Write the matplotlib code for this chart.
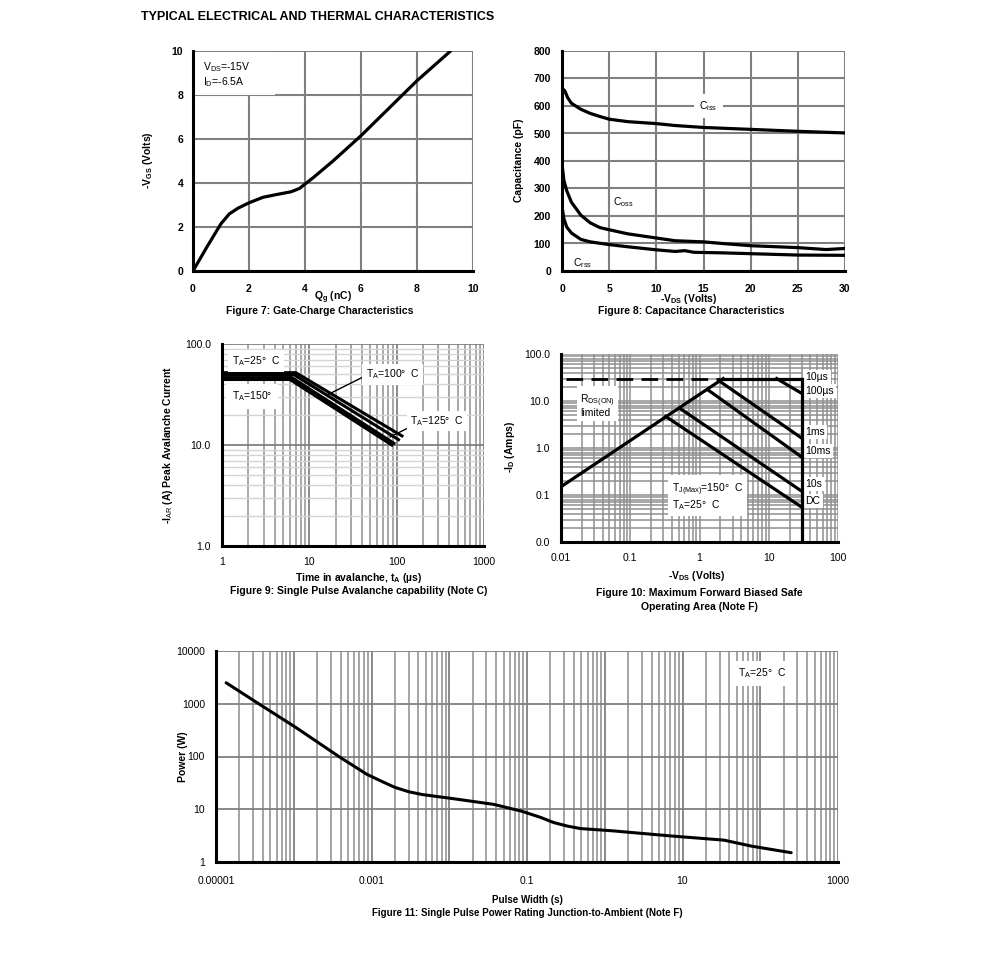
import numpy as np
import matplotlib
matplotlib.use("Agg")
import matplotlib.pyplot as plt
from matplotlib.ticker import FixedLocator, NullFormatter, LogLocator

plt.rcParams['font.family'] = ['Liberation Sans', 'DejaVu Sans']
plt.rcParams['mathtext.fontset'] = 'custom'
plt.rcParams['mathtext.rm'] = 'Liberation Sans'
plt.rcParams['mathtext.it'] = 'Liberation Sans:italic'
plt.rcParams['mathtext.bf'] = 'Liberation Sans:bold'

### DATA ###
# Figure 7: gate charge
qg = [0, 0.5, 1.0, 1.3, 1.6, 2.0, 2.5, 3.0, 3.5, 3.8, 4.0, 4.3, 5.0, 6.0, 7.0, 8.0, 9.2]
vgs = [0, 1.1, 2.15, 2.6, 2.85, 3.1, 3.35, 3.48, 3.6, 3.75, 3.95, 4.25, 5.0, 6.15, 7.4, 8.65, 10.0]

# Figure 8: capacitance
vds_ciss = [0, 0.3, 0.6, 1, 2, 3, 4, 5, 7, 10, 12, 15, 20, 25, 30]
ciss = [665, 655, 630, 610, 588, 573, 562, 552, 543, 536, 529, 522, 515, 508, 502]
vds_coss = [0, 0.2, 0.5, 1, 2, 3, 4, 5, 7, 10, 12, 15, 17, 20, 25, 28, 30]
coss = [390, 330, 292, 250, 203, 175, 158, 150, 135, 120, 110, 106, 100, 92, 85, 78, 82]
vds_crss = [0, 0.2, 0.5, 1, 2, 3, 5, 7, 10, 12, 13, 14, 17, 20, 25, 30]
crss = [235, 190, 160, 138, 115, 106, 96, 88, 77, 71, 74, 68, 66, 63, 58, 57]

# Figure 9: avalanche capability (t in us, I in A)
t_25 = [1, 7.0, 115]
i_25 = [52, 52, 12.3]
t_100 = [1, 6.7, 105]
i_100 = [49.5, 49.5, 11.3]
t_125 = [1, 6.3, 93]
i_125 = [46.5, 46.5, 10.4]
t_150 = [1, 6.0, 88]
i_150 = [44.5, 44.5, 10.0]

# Figure 10: SOA
rds_v = [0.01, 2.2]
rds_i = [0.15, 30]
dash_v = [0.012, 1.95]
dash_i = [30, 30]
top_v = [2.2, 30]
top_i = [30, 30]
vert_v = [30, 30]
vert_i = [30, 0.01]
soa_v = {"100us": [13, 30], "1ms": [1.98, 30], "10ms": [1.38, 30], "10s": [0.52, 30], "DC": [0.325, 30]}
soa_i = {"100us": [30, 14.5], "1ms": [26, 1.62], "10ms": [16.5, 0.64], "10s": [7.0, 0.12], "DC": [4.7, 0.055]}
soa_labels = ["10\u00b5s", "100\u00b5s", "1ms", "10ms", "10s", "DC"]
soa_label_y = [32, 16, 2.2, 0.85, 0.17, 0.075]

# Figure 11: single pulse power
pw = [1.35e-5, 3.2e-5, 1.05e-4, 3.8e-4, 8.7e-4, 1.4e-3, 2e-3, 3e-3, 4.5e-3, 0.0115, 0.037, 0.085,
      0.15, 0.22, 0.33, 0.49, 1.26, 7.4, 34, 77, 250]
power = [2500, 1100, 360, 100, 46, 33, 26, 21.5, 19, 15.8, 12.4, 9.2, 7.0, 5.6, 4.8, 4.3, 3.9, 3.1, 2.6, 2.0, 1.5]

W, H = 991, 980
fig = plt.figure(figsize=(W / 100, H / 100), dpi=100)


def box(l, t, r, b):
    return [l / W, 1 - b / H, (r - l) / W, (b - t) / H]


def ftext(x, y, s, **kw):
    kw.setdefault("ha", "center")
    kw.setdefault("va", "center")
    kw.setdefault("fontsize", 7.5)
    fig.text(x / W, 1 - y / H, s, **kw)


def style(ax):
    for s in ["left", "bottom"]:
        ax.spines[s].set_linewidth(2.2)
        ax.spines[s].set_color("black")
        ax.spines[s].set_zorder(5)
    for s in ["top", "right"]:
        ax.spines[s].set_visible(False)
    ax.set_axisbelow(True)


wbox = dict(facecolor="white", edgecolor="none", pad=2.5)

ftext(141, 17, "TYPICAL ELECTRICAL AND THERMAL CHARACTERISTICS", ha="left",
      fontsize=9, fontweight="bold")

### FIGURE 7 ###
ax7 = fig.add_axes(box(193, 51, 473, 271))
style(ax7)
ax7.plot(qg, vgs, color="black", lw=2.3, solid_capstyle="round", solid_joinstyle="round")
ax7.set_xlim(0, 10)
ax7.set_ylim(0, 10)
ax7.set_xticks(range(0, 11, 2))
ax7.set_yticks(range(0, 11, 2))
ax7.grid(True, color="#808080", lw=1.5)
ax7.tick_params(length=0, labelsize=7.5, pad=9)
ax7.tick_params(axis="y", pad=7)
for lab in ax7.get_xticklabels() + ax7.get_yticklabels():
    lab.set_fontweight("bold")
ax7.add_patch(plt.Rectangle((0.07, 8.0), 2.85, 1.95, facecolor="white", edgecolor="none", zorder=2))
ax7.text(0.36, 9.27, "V$_\\mathrm{DS}$=-15V", fontsize=7.5, va="center", zorder=3)
ax7.text(0.36, 8.6, "I$_\\mathrm{D}$=-6.5A", fontsize=7.5, va="center", zorder=3)
ftext(148, 160, "-V$_\\mathbf{GS}$ (Volts)", rotation=90, fontweight="bold")
ftext(333, 298, "Q$_\\mathbf{g}$ (nC)", fontweight="bold")
ftext(320, 311, "Figure 7: Gate-Charge Characteristics", fontweight="bold")

### FIGURE 8 ###
ax8 = fig.add_axes(box(562, 51, 845, 271))
style(ax8)
ax8.plot(vds_ciss, ciss, color="black", lw=2.3, solid_joinstyle="round")
ax8.plot(vds_coss, coss, color="black", lw=2.3, solid_joinstyle="round")
ax8.plot(vds_crss, crss, color="black", lw=2.3, solid_joinstyle="round")
ax8.set_xlim(0, 30)
ax8.set_ylim(0, 800)
ax8.set_xticks(range(0, 31, 5))
ax8.set_yticks(range(0, 801, 100))
ax8.grid(True, color="#808080", lw=1.5)
ax8.tick_params(length=0, labelsize=7.5, pad=9)
ax8.tick_params(axis="y", pad=8)
for lab in ax8.get_xticklabels() + ax8.get_yticklabels():
    lab.set_fontweight("bold")
ax8.text(15.5, 600, "C$_\\mathrm{iss}$", fontsize=7.5, ha="center", va="center", bbox=dict(facecolor="white", edgecolor="none", pad=4))
ax8.text(5.4, 252, "C$_\\mathrm{oss}$", fontsize=7.5, ha="left", va="center")
ax8.text(1.2, 30, "C$_\\mathrm{rss}$", fontsize=7.5, ha="left", va="center")
ftext(519, 160, "Capacitance (pF)", rotation=90, fontweight="bold")
ftext(689, 299, "-V$_\\mathbf{DS}$ (Volts)", fontweight="bold")
ftext(691, 311, "Figure 8: Capacitance Characteristics", fontweight="bold")

### FIGURE 9 ###
ax9 = fig.add_axes(box(222, 344, 484, 546))
style(ax9)
for t, i in [(t_25, i_25), (t_100, i_100), (t_125, i_125), (t_150, i_150)]:
    ax9.plot(t, i, color="black", lw=2.2)
ax9.set_xscale("log")
ax9.set_yscale("log")
ax9.set_xlim(1, 1000)
ax9.set_ylim(1, 100)
ax9.set_xticks([1, 10, 100, 1000], ["1", "10", "100", "1000"])
ax9.set_yticks([1, 10, 100], ["1.0", "10.0", "100.0"])
ax9.xaxis.set_minor_locator(LogLocator(base=10, subs=np.arange(2, 10)))
ax9.yaxis.set_minor_locator(LogLocator(base=10, subs=np.arange(2, 10)))
ax9.xaxis.set_minor_formatter(NullFormatter())
ax9.yaxis.set_minor_formatter(NullFormatter())
ax9.grid(True, which="major", color="#808080", lw=1.3)
ax9.grid(True, which="minor", axis="x", color="#909090", lw=1.1)
ax9.grid(True, which="minor", axis="y", color="#d4d4d4", lw=1.0)
ax9.tick_params(which="both", length=0, labelsize=7.5, pad=8)
ax9.text(1.3, 68, "T$_\\mathrm{A}$=25\u00b0  C", fontsize=7.5, va="center",
         bbox=dict(facecolor="white", edgecolor="none", pad=3))
ax9.text(1.3, 30.5, "T$_\\mathrm{A}$=150\u00b0", fontsize=7.5, va="center",
         bbox=dict(facecolor="white", edgecolor="none", pad=4))
ax9.plot([16, 41], [31.3, 47], color="black", lw=1.0)
ax9.text(44, 50, "T$_\\mathrm{A}$=100\u00b0  C", fontsize=7.5, va="center", bbox=wbox)
ax9.plot([84, 134], [12, 14.7], color="black", lw=1.0)
ax9.text(142, 17.3, "T$_\\mathrm{A}$=125\u00b0  C", fontsize=7.5, va="center", bbox=wbox)
ftext(168, 445, "-I$_\\mathrm{AR}$ (A) Peak Avalanche Current", rotation=90, fontweight="bold")
ftext(359, 578, "Time in avalanche, t$_\\mathbf{A}$ (\u00b5s)", fontweight="bold")
ftext(359, 591, "Figure 9: Single Pulse Avalanche capability (Note C)", fontweight="bold")

### FIGURE 10 ###
ax10 = fig.add_axes(box(561, 354, 838, 542))
style(ax10)
ax10.set_xscale("log")
ax10.set_yscale("log")
ax10.set_xlim(0.01, 100)
ax10.set_ylim(0.01, 100)
ax10.set_xticks([0.01, 0.1, 1, 10, 100], ["0.01", "0.1", "1", "10", "100"])
ax10.set_yticks([0.01, 0.1, 1, 10, 100], ["0.0", "0.1", "1.0", "10.0", "100.0"])
ax10.xaxis.set_minor_locator(LogLocator(base=10, subs=np.arange(2, 10)))
ax10.yaxis.set_minor_locator(LogLocator(base=10, subs=np.arange(2, 10)))
ax10.xaxis.set_minor_formatter(NullFormatter())
ax10.yaxis.set_minor_formatter(NullFormatter())
ax10.grid(True, which="both", color="#909090", lw=1.1)
ax10.tick_params(which="both", length=0, labelsize=7.5, pad=8)
ax10.plot(rds_v, rds_i, color="black", lw=2.3)
ax10.plot(dash_v, dash_i, color="black", lw=2.0, dashes=(6, 3))
ax10.plot(top_v, top_i, color="black", lw=2.3)
ax10.plot(vert_v, vert_i, color="black", lw=2.3, zorder=4)
for k in soa_v:
    ax10.plot(soa_v[k], soa_i[k], color="black", lw=2.3)
for s, y in zip(soa_labels, soa_label_y):
    ax10.text(34, y, s, fontsize=7.5, va="center", bbox=dict(facecolor="white", edgecolor="none", pad=1.5))
ax10.text(0.019, 8.0, "R$_\\mathrm{DS(ON)}$\nlimited", fontsize=7.5, va="center", linespacing=0.9,
          bbox=dict(facecolor="white", edgecolor="none", pad=2))
ax10.text(0.4, 0.092, "T$_\\mathrm{J(Max)}$=150\u00b0  C\nT$_\\mathrm{A}$=25\u00b0  C", fontsize=7.5, va="center",
          linespacing=1.0, bbox=dict(facecolor="white", edgecolor="none", pad=3))
ftext(510, 447, "-I$_\\mathbf{D}$ (Amps)", rotation=90, fontweight="bold")
ftext(697, 576, "-V$_\\mathbf{DS}$ (Volts)", fontweight="bold")
ftext(699, 593, "Figure 10: Maximum Forward Biased Safe", fontweight="bold")
ftext(699, 607, "Operating Area (Note F)", fontweight="bold")

### FIGURE 11 ###
ax11 = fig.add_axes(box(216, 651, 838, 862))
style(ax11)
ax11.plot(pw, power, color="black", lw=2.2, solid_joinstyle="round", solid_capstyle="round")
ax11.set_xscale("log")
ax11.set_yscale("log")
ax11.set_xlim(1e-5, 1e3)
ax11.set_ylim(1, 1e4)
xdec = [10.0 ** k for k in range(-5, 4)]
xlab = ["0.00001", "", "0.001", "", "0.1", "", "10", "", "1000"]
ax11.set_xticks(xdec, xlab)
ax11.set_yticks([1, 10, 100, 1000, 10000], ["1", "10", "100", "1000", "10000"])
ax11.xaxis.set_minor_locator(LogLocator(base=10, subs=np.arange(2, 10)))
ax11.xaxis.set_minor_formatter(NullFormatter())
ax11.yaxis.set_minor_locator(FixedLocator([]))
ax11.grid(True, which="major", color="#808080", lw=1.3)
ax11.grid(True, which="minor", axis="x", color="#8c8c8c", lw=1.1)
ax11.tick_params(which="both", length=0, labelsize=7.5, pad=10)
ax11.tick_params(axis="y", pad=8)
ax11.text(51, 3800, "T$_\\mathrm{A}$=25\u00b0  C", fontsize=7.5, va="center",
          bbox=dict(facecolor="white", edgecolor="none", pad=4))
ftext(183, 757, "Power (W)", rotation=90, fontweight="bold")
ftext(527, 900, "Pulse Width (s)", fontweight="bold", fontsize=7)
ftext(527, 913, "Figure 11: Single Pulse Power Rating Junction-to-Ambient (Note F)", fontweight="bold", fontsize=7)

fig.savefig("out.png", dpi=100)
